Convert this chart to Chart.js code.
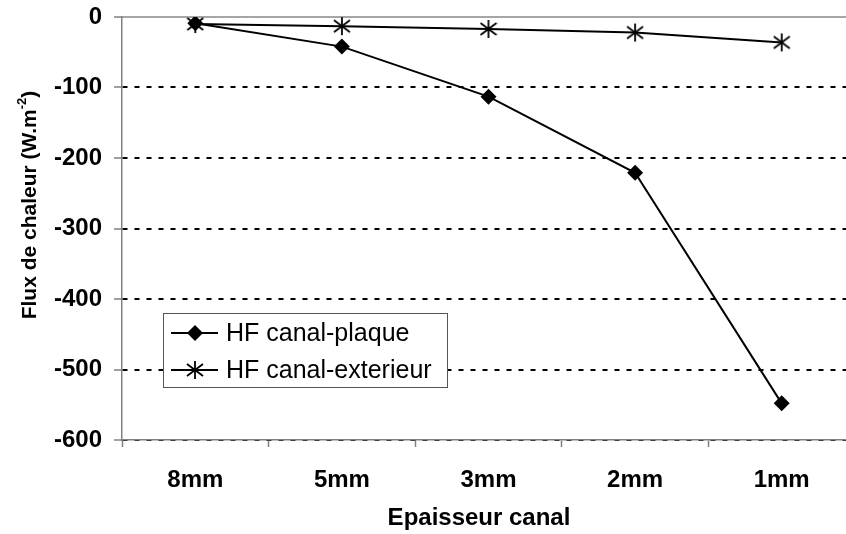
<!DOCTYPE html>
<html lang="fr">
<head>
    <meta charset="UTF-8">
    <title>Flux de chaleur</title>
    <style>
        html, body {
            margin: 0;
            padding: 0;
            background: #fff;
            overflow: hidden;
        }
        .wrap {
            width: 870px;
            height: 534px;
        }
    </style>
</head>
<body>
    <div class="wrap">
        <canvas id="chart" width="870" height="534"></canvas>
    </div>

    <script src="https://cdnjs.cloudflare.com/ajax/libs/Chart.js/4.4.1/chart.umd.min.js"></script>
    <script>
        // données
        const categories = ['8mm', '5mm', '3mm', '2mm', '1mm'];
        const hfPlaque = [-9, -42, -113, -221, -548];
        const hfExterieur = [-10, -13, -17, -22, -36];
        const yMin = -600;
        const yMax = 0;
        const yStep = 100;

        const FONT = "'Liberation Sans', Arial, sans-serif";

        // marqueur asterisque (vertical + deux diagonales)
        function makeStar() {
            const c = document.createElement('canvas');
            c.width = 18;
            c.height = 20;
            const g = c.getContext('2d');
            g.strokeStyle = '#000';
            g.lineWidth = 1.8;
            g.beginPath();
            g.moveTo(9, 1); g.lineTo(9, 19);
            g.moveTo(1, 4); g.lineTo(17, 16);
            g.moveTo(1, 16); g.lineTo(17, 4);
            g.stroke();
            return c;
        }
        const star = makeStar();

        // titres des axes (avec exposant)
        const axisTitles = {
            id: 'axisTitles',
            afterDraw(chart) {
                const ctx = chart.ctx;
                const a = chart.chartArea;
                ctx.save();
                ctx.fillStyle = '#000';

                // titre X
                ctx.font = 'bold 24px ' + FONT;
                ctx.textAlign = 'center';
                ctx.textBaseline = 'middle';
                ctx.fillText('Epaisseur canal', a.left + 357, 518);

                // titre Y
                const main = 'Flux de chaleur (W.m';
                const sup = '-2';
                const end = ')';
                ctx.translate(28, 205);
                ctx.rotate(-Math.PI / 2);
                ctx.font = 'bold 21px ' + FONT;
                const w1 = ctx.measureText(main).width;
                const w3 = ctx.measureText(end).width;
                ctx.font = 'bold 13px ' + FONT;
                const w2 = ctx.measureText(sup).width;
                const total = w1 + w2 + w3;
                let x = -total / 2;
                ctx.textAlign = 'left';
                ctx.textBaseline = 'alphabetic';
                ctx.font = 'bold 21px ' + FONT;
                ctx.fillText(main, x, 8);
                x += w1;
                ctx.font = 'bold 13px ' + FONT;
                ctx.fillText(sup, x, -2);
                x += w2;
                ctx.font = 'bold 21px ' + FONT;
                ctx.fillText(end, x, 8);
                ctx.restore();
            }
        };

        // légende encadrée dans la zone du graphique
        const boxLegend = {
            id: 'boxLegend',
            afterDraw(chart) {
                const ctx = chart.ctx;
                const a = chart.chartArea;
                const bx = a.left + 41, by = 313, bw = 284, bh = 74;
                ctx.save();
                ctx.fillStyle = '#fff';
                ctx.fillRect(bx, by, bw, bh);
                ctx.strokeStyle = '#555';
                ctx.lineWidth = 1;
                ctx.strokeRect(bx + 0.5, by + 0.5, bw, bh);

                ctx.font = '25px ' + FONT;
                ctx.textBaseline = 'middle';
                ctx.textAlign = 'left';
                chart.data.datasets.forEach((ds, i) => {
                    const cy = by + 20 + i * 37;
                    ctx.strokeStyle = '#000';
                    ctx.lineWidth = 2;
                    ctx.beginPath();
                    ctx.moveTo(bx + 8, cy);
                    ctx.lineTo(bx + 55, cy);
                    ctx.stroke();
                    const cx = bx + 32;
                    if (ds.pointStyle === 'rectRot') {
                        const r = ds.pointRadius;
                        ctx.fillStyle = '#000';
                        ctx.beginPath();
                        ctx.moveTo(cx - r, cy);
                        ctx.lineTo(cx, cy - r);
                        ctx.lineTo(cx + r, cy);
                        ctx.lineTo(cx, cy + r);
                        ctx.closePath();
                        ctx.fill();
                    } else {
                        ctx.drawImage(ds.pointStyle, cx - ds.pointStyle.width / 2, cy - ds.pointStyle.height / 2);
                    }
                    ctx.fillStyle = '#000';
                    ctx.fillText(ds.label, bx + 63, cy + 1);
                });
                ctx.restore();
            }
        };

        new Chart(document.getElementById('chart'), {
            type: 'line',
            data: {
                labels: categories,
                datasets: [
                    {
                        label: 'HF canal-plaque',
                        data: hfPlaque,
                        borderColor: '#000',
                        borderWidth: 2,
                        backgroundColor: '#000',
                        pointStyle: 'rectRot',
                        pointRadius: 8,
                        pointBorderWidth: 0,
                        tension: 0
                    },
                    {
                        label: 'HF canal-exterieur',
                        data: hfExterieur,
                        borderColor: '#000',
                        borderWidth: 2,
                        backgroundColor: '#000',
                        pointStyle: star,
                        pointRadius: 9,
                        tension: 0
                    }
                ]
            },
            options: {
                responsive: false,
                animation: false,
                layout: {
                    padding: { top: 17, right: 15, bottom: 0, left: 0 }
                },
                plugins: {
                    legend: { display: false },
                    tooltip: { enabled: false }
                },
                scales: {
                    x: {
                        type: 'category',
                        position: 'bottom',
                        offset: true,
                        grid: {
                            offset: true,
                            drawOnChartArea: false,
                            drawTicks: true,
                            tickLength: 7,
                            tickColor: '#808080',
                            tickWidth: 1.5
                        },
                        border: { color: '#808080', width: 1.5 },
                        ticks: {
                            color: '#000',
                            padding: 19,
                            font: { family: FONT, size: 24, weight: 'bold' }
                        },
                        afterFit(s) { s.height = 94; }
                    },
                    xTop: {
                        type: 'category',
                        position: 'top',
                        labels: categories,
                        grid: { display: false },
                        ticks: { display: false },
                        border: { color: '#a6a6a6', width: 2 },
                        afterFit(s) { s.height = 0; }
                    },
                    y: {
                        min: yMin,
                        max: yMax,
                        grid: {
                            color: (c) => c.tick && c.tick.value === 0 ? '#777' : '#000',
                            lineWidth: 2,
                            drawTicks: true,
                            tickLength: 8,
                            tickColor: '#808080',
                            tickWidth: 1.5
                        },
                        border: { color: '#808080', width: 1.5, dash: [5, 7] },
                        ticks: {
                            stepSize: yStep,
                            color: '#000',
                            padding: 12,
                            font: { family: FONT, size: 24, weight: 'bold' }
                        },
                        afterFit(s) {
                            s.width = 122;
                            s.paddingTop = 0;
                            s.paddingBottom = 0;
                        }
                    }
                }
            },
            plugins: [axisTitles, boxLegend]
        });
    </script>
</body>
</html>
